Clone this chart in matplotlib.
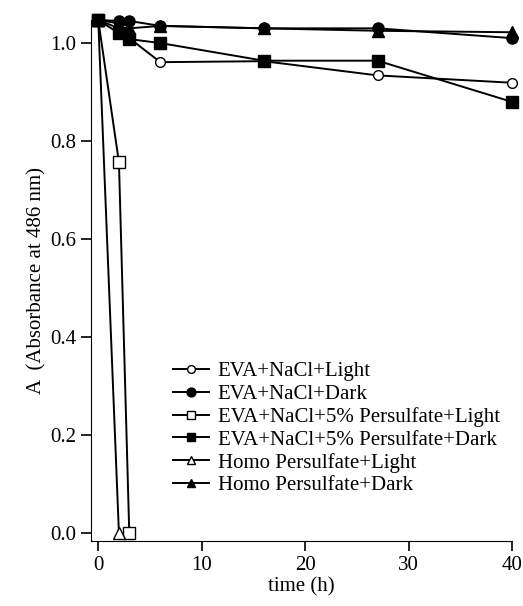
import matplotlib
matplotlib.use('Agg')
import matplotlib.pyplot as plt

plt.rcParams.update({
    'font.family': 'Liberation Serif',
    'font.size': 15,
})

# ── Dados ─────────────────────────────────────────────────────────────────────
t_circ_open = [0, 2, 3, 6, 16, 27, 40]
a_circ_open = [1.047, 1.04, 1.01, 0.961, 0.963, 0.934, 0.919]

t_circ_fill = [0, 2, 3, 6, 16, 27, 40]
a_circ_fill = [1.047, 1.045, 1.045, 1.035, 1.03, 1.03, 1.01]

t_sq_open = [0, 2, 3]
a_sq_open = [1.047, 0.757, 0.0]

t_sq_fill = [0, 2, 3, 6, 16, 27, 40]
a_sq_fill = [1.047, 1.02, 1.008, 1.0, 0.964, 0.964, 0.88]

t_tri_open = [0, 2]
a_tri_open = [1.047, 0.0]

t_tri_fill = [0, 2, 3, 6, 16, 27, 40]
a_tri_fill = [1.047, 1.03, 1.03, 1.035, 1.03, 1.025, 1.022]

labels = ['EVA+NaCl+Light', 'EVA+NaCl+Dark',
          'EVA+NaCl+5% Persulfate+Light', 'EVA+NaCl+5% Persulfate+Dark',
          'Homo Persulfate+Light', 'Homo Persulfate+Dark']

series = [
    (t_circ_open, a_circ_open, 'o', 'white', 7),
    (t_circ_fill, a_circ_fill, 'o', 'black', 8),
    (t_sq_open,   a_sq_open,   's', 'white', 8),
    (t_sq_fill,   a_sq_fill,   's', 'black', 8),
    (t_tri_open,  a_tri_open,  '^', 'white', 8),
    (t_tri_fill,  a_tri_fill,  '^', 'black', 8),
]

fig = plt.figure(figsize=(5.23, 6.06), dpi=100)
ax = fig.add_axes([0.174, 0.107, 0.805, 0.86])

for (t, a, mk, fc, ms), lab in zip(series, labels):
    ax.plot(t, a, marker=mk, color='black', markerfacecolor=fc,
            markeredgecolor='black', markersize=ms, linewidth=1.4,
            markeredgewidth=1.0, label=lab, clip_on=False)

ax.set_xlim(-0.7, 40)
ax.set_ylim(-0.016, 1.047)
ax.set_xticks([0, 10, 20, 30, 40])
ax.set_yticks([0.0, 0.2, 0.4, 0.6, 0.8, 1.0])
ax.set_yticklabels(['0.0', '0.2', '0.4', '0.6', '0.8', '1.0'])
ax.spines['top'].set_visible(False)
ax.spines['right'].set_visible(False)
ax.tick_params(direction='out', length=7, width=1.2)
ax.set_xlabel('time (h)', labelpad=2)
ax.set_ylabel('A  (Absorbance at 486 nm)', labelpad=3)

leg = ax.legend(loc='lower left', bbox_to_anchor=(0.17, 0.068), frameon=False,
                handlelength=1.75, handletextpad=0.4, labelspacing=0.15,
                borderpad=0, markerscale=0.8)

fig.savefig('out.png', dpi=100)
